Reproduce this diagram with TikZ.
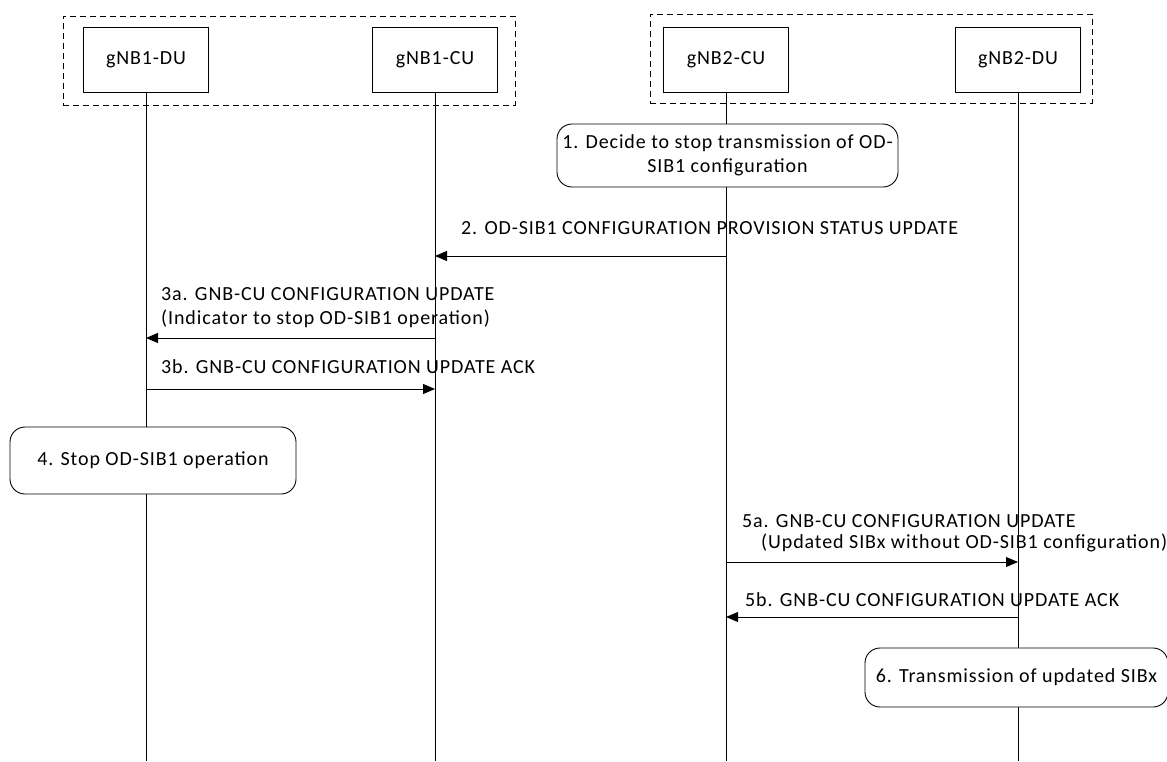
\documentclass[tikz,border=0pt]{standalone}
\usepackage{fontspec}
\setmainfont{Carlito}[LetterSpace=4.5]
\usetikzlibrary{arrows.meta}
\begin{document}
\begin{tikzpicture}[x=1pt,y=-1pt,
  txt/.style={font=\fontsize{20}{24.5}\selectfont},
  ent/.style={draw, line width=0.9pt, minimum width=125pt, minimum height=65pt, fill=white, inner sep=0pt, txt},
  grp/.style={draw, line width=0.9pt, dash pattern=on 6pt off 4pt, inner sep=0pt},
  stepbox/.style={draw, line width=0.9pt, rounded corners=15pt, fill=white, align=center, inner sep=0pt, txt},
  life/.style={line width=0.9pt},
  msg/.style={line width=0.9pt, -{Triangle[length=12pt,width=10pt]}},
  lbl/.style={anchor=west, inner sep=0pt, align=left, txt}
]
\useasboundingbox (0,0) rectangle (1167,761);
% groups
\node[grp, minimum width=452pt, minimum height=89pt] (g1) at (289,60.5) {};
\node[grp, minimum width=442pt, minimum height=89pt] (g2) at (871,58.5) {};
% entities
\node[ent] (du1) at (146,59.5) {gNB1-DU};
\node[ent] (cu1) at (435,59.5) {gNB1-CU};
\node[ent] (cu2) at (726,59.5) {gNB2-CU};
\node[ent] (du2) at (1018,59.5) {gNB2-DU};
% lifeline ends
\coordinate (du1e) at (146,761);
\coordinate (cu1e) at (435,761);
\coordinate (cu2e) at (726,761);
\coordinate (du2e) at (1018,761);
\draw[life] (du1) -- (du1e);
\draw[life] (cu1) -- (cu1e);
\draw[life] (cu2) -- (cu2e);
\draw[life] (du2) -- (du2e);
% steps
\node[stepbox, minimum width=341pt, minimum height=63pt] (s1) at (727.5,155.5)
  {1. Decide to stop transmission of OD-\\SIB1 configuration};
\node[stepbox, minimum width=286pt, minimum height=67pt] (s4) at (153,460.5)
  {4. Stop OD-SIB1 operation};
\node[stepbox, minimum width=303pt, minimum height=59pt] (s6) at (1016.5,677.5)
  {6. Transmission of updated SIBx};
% messages
\draw[msg] (cu2 |- 0,256) -- (cu1 |- 0,256);
\node[lbl] (m2) at (461,228) {2. OD-SIB1 CONFIGURATION PROVISION STATUS UPDATE};
\draw[msg] (cu1 |- 0,338) -- (du1 |- 0,338);
\node[lbl] (m3a) at (161,307.5) {3a. GNB-CU CONFIGURATION UPDATE\\(Indicator to stop OD-SIB1 operation)};
\draw[msg] (du1 |- 0,389) -- (cu1 |- 0,389);
\node[lbl] (m3b) at (161,367) {3b. GNB-CU CONFIGURATION UPDATE ACK};
\draw[msg] (cu2 |- 0,562) -- (du2 |- 0,562);
\node[lbl] (m5a) at (742,521) {5a. GNB-CU CONFIGURATION UPDATE};
\node[lbl] (m5a2) at (761,543) {(Updated SIBx without OD-SIB1 configuration)};
\draw[msg] (du2 |- 0,617) -- (cu2 |- 0,617);
\node[lbl] (m5b) at (745,600) {5b. GNB-CU CONFIGURATION UPDATE ACK};
\end{tikzpicture}
\end{document}
